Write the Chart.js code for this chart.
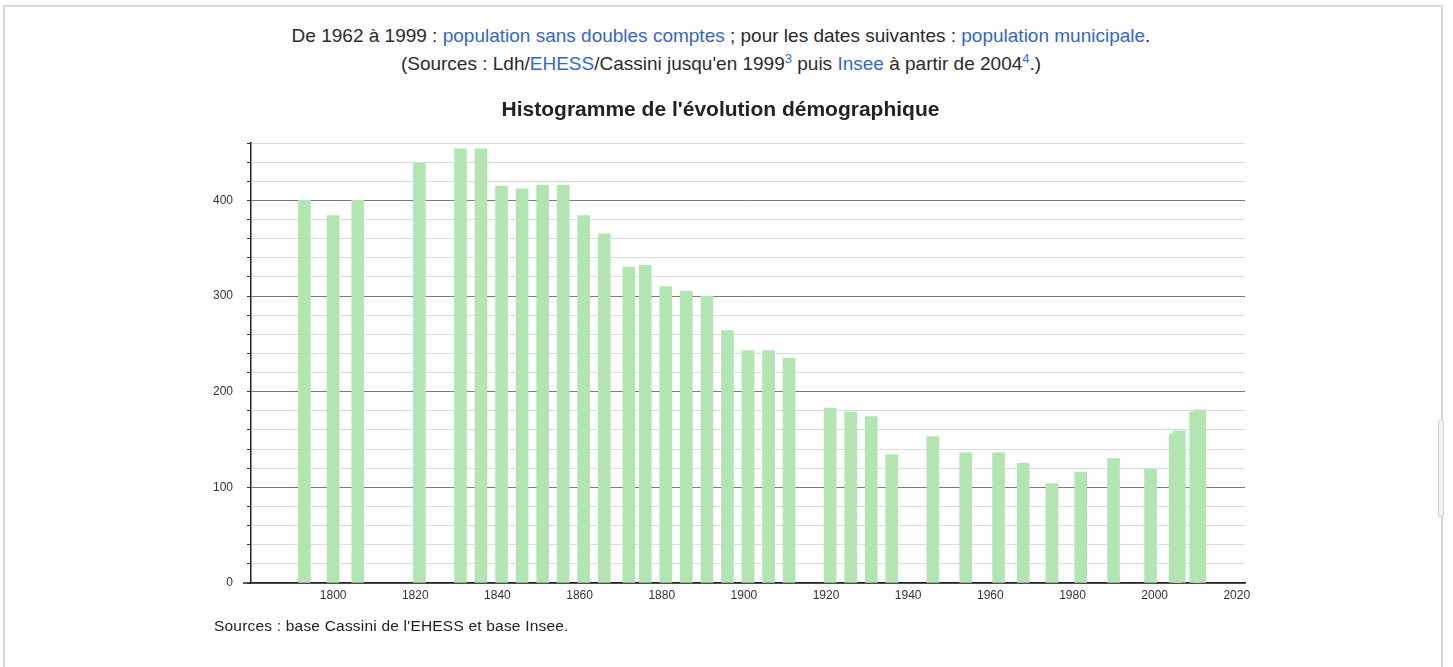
<!DOCTYPE html>
<html lang="fr">
<head>
<meta charset="utf-8">
<title>Évolution démographique</title>
<script src="https://cdn.jsdelivr.net/npm/chart.js@4.4.1/dist/chart.umd.min.js"></script>
<style>
  html, body { margin: 0; padding: 0; background: #fff; }
  body { width: 1453px; height: 667px; position: relative; overflow: hidden;
         font-family: "Liberation Sans", Arial, sans-serif; color: #222; }
  #frame { position: absolute; left: 3px; top: 5px; width: 1436px; height: 700px;
           border: 2px solid #d6d6d6; border-top-color: #d7dce4; }
  #thumb { position: absolute; left: 1438px; top: 420px; width: 4px; height: 95px;
           border: 1px solid #d0d0d0; border-radius: 2px; background: #f2f2f2; }
  #header { position: absolute; left: 0; top: 22px; width: 1442px; text-align: center;
            font-size: 19px; line-height: 28px; color: #2a2a2a; }
  #header a { color: #3366cc; text-decoration: none; }
  #header sup { font-size: 13px; line-height: 0; }
  #demoChart { position: absolute; left: 0; top: 0; }
  #footer { position: absolute; left: 214px; top: 617px; font-size: 15.5px; letter-spacing: 0.2px; color: #222; }
</style>
</head>
<body>
<div id="frame"></div>
<div id="thumb"></div>
<div id="header">
  <div>De 1962 à 1999 : <a>population sans doubles comptes</a> ; pour les dates suivantes : <a>population municipale</a>.</div>
  <div>(Sources : Ldh/<a>EHESS</a>/Cassini jusqu'en 1999<sup><a>3</a></sup> puis <a>Insee</a> à partir de 2004<sup><a>4</a></sup>.)</div>
</div>
<canvas id="demoChart" width="1453" height="667"></canvas>
<div id="footer">Sources : base Cassini de l'EHESS et base Insee.</div>

<script>
// années de recensement et population
const years = [1793, 1800, 1806, 1821, 1831, 1836, 1841, 1846, 1851, 1856, 1861, 1866,
               1872, 1876, 1881, 1886, 1891, 1896, 1901, 1906, 1911, 1921, 1926, 1931,
               1936, 1946, 1954, 1962, 1968, 1975, 1982, 1990, 1999, 2005, 2006, 2010, 2011];
const population = [400, 384, 400, 439, 454, 454, 415, 412, 416, 416, 384, 365,
                    330, 332, 310, 305, 300, 264, 243, 243, 235, 183, 179, 174,
                    134, 153, 136, 136, 125, 104, 116, 130, 119, 156, 159, 179, 181];
// graduations
const xTicks = [1800, 1820, 1840, 1860, 1880, 1900, 1920, 1940, 1960, 1980, 2000, 2020];
const yLabels = [0, 100, 200, 300, 400];

const points = years.map((y, i) => ({ x: y, y: population[i] }));

// prolonge l'axe des abscisses un peu à gauche de l'axe vertical
const axisStub = {
    id: 'axisStub',
    afterDraw(chart) {
        const { ctx, chartArea } = chart;
        ctx.save();
        ctx.strokeStyle = '#222';
        ctx.lineWidth = 1.5;
        ctx.beginPath();
        ctx.moveTo(chartArea.left - 8, chartArea.bottom);
        ctx.lineTo(chartArea.left, chartArea.bottom);
        ctx.stroke();
        ctx.restore();
    }
};

const canvas = document.getElementById('demoChart');
const chart = new Chart(canvas, {
    type: 'bar',
    data: {
        datasets: [{
            data: points,
            backgroundColor: '#b3e5b3',
            borderWidth: 0,
            barThickness: 12
        }]
    },
    options: {
        responsive: false,
        animation: false,
        layout: { padding: { left: 196, right: 208, top: 97.4, bottom: 54 } },
        plugins: {
            legend: { display: false },
            tooltip: { enabled: false },
            title: {
                display: true,
                text: "Histogramme de l'évolution démographique",
                color: '#222',
                font: { family: '"Liberation Sans", Arial, sans-serif', size: 21, weight: 'bold' },
                padding: { top: 0, bottom: 20.4 }
            }
        },
        scales: {
            x: {
                type: 'linear',
                offset: false,
                min: 1780,
                max: 2022,
                afterFit: s => { s.height = 30; },
                afterBuildTicks: s => { s.ticks = xTicks.map(v => ({ value: v })); },
                grid: { display: false, drawTicks: false },
                border: { display: true, color: '#222', width: 1.5 },
                ticks: {
                    autoSkip: false,
                    maxRotation: 0,
                    padding: 5,
                    color: '#333',
                    font: { family: '"Liberation Sans", Arial, sans-serif', size: 12 },
                    callback: v => String(v)
                }
            },
            y: {
                min: 0,
                max: 460,
                afterFit: s => { s.width = 55; },
                ticks: {
                    stepSize: 20,
                    padding: 14,
                    color: '#333',
                    font: { family: '"Liberation Sans", Arial, sans-serif', size: 12 },
                    callback: v => yLabels.includes(v) ? String(v) : ''
                },
                grid: {
                    drawTicks: true,
                    tickLength: 4,
                    tickColor: '#333',
                    color: ctx => (ctx.tick && ctx.tick.value % 100 === 0) ? '#7a7a7a' : '#dcdcdc',
                    lineWidth: 1
                },
                border: { display: true, color: '#222', width: 1.5 }
            }
        }
    },
    plugins: [axisStub]
});
</script>
</body>
</html>
